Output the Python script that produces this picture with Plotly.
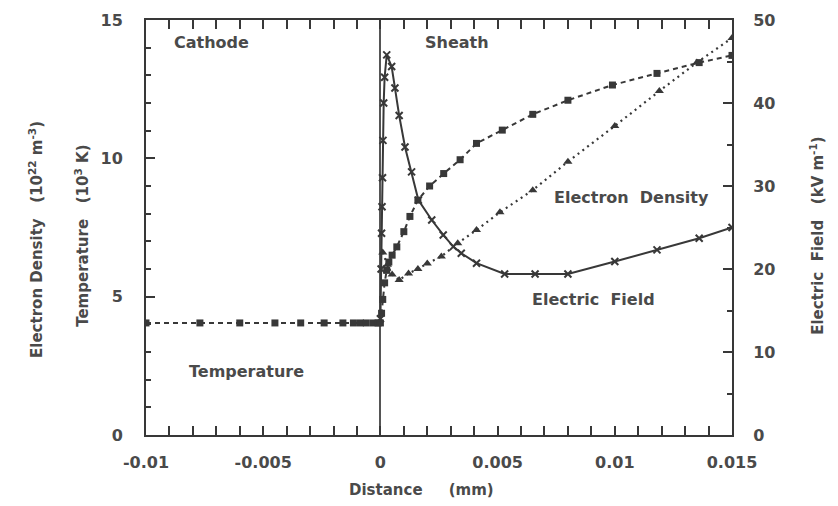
import plotly.graph_objects as go

# ---- data ----
temp_x = [-0.01, -0.0077, -0.006, -0.0045, -0.0034, -0.0024, -0.0016, -0.00115, -0.00085,
          -0.0006, -0.0003, -0.0001, 0.0, 0.00005, 0.0001, 0.00018, 0.00027, 0.00036,
          0.0005, 0.0007, 0.001, 0.00126, 0.0016, 0.0021, 0.0027, 0.0034, 0.0041, 0.0052,
          0.0065, 0.008, 0.0099, 0.0118, 0.0136, 0.015]
temp_y = [4.05, 4.05, 4.05, 4.05, 4.05, 4.05, 4.05, 4.05, 4.05,
          4.05, 4.05, 4.05, 4.05, 4.4, 4.9, 5.5, 5.95, 6.25,
          6.5, 6.8, 7.35, 7.9, 8.49, 9.0, 9.45, 9.95, 10.54, 11.02,
          11.59, 12.1, 12.65, 13.07, 13.46, 13.72]

dens_x = [0.0001, 0.0003, 0.0005, 0.0008, 0.0012, 0.0016, 0.002, 0.0026, 0.0033, 0.0041,
          0.0051, 0.0065, 0.008, 0.01, 0.0119, 0.0135, 0.015]
dens_y = [6.6, 6.15, 5.8, 5.6, 5.84, 6.0, 6.2, 6.45, 6.93, 7.41,
          8.05, 8.85, 9.88, 11.17, 12.43, 13.46, 14.35]

field_x = [0.0, 0.00003, 0.00005, 0.00007, 0.00009, 0.00011, 0.00014, 0.00018, 0.00027,
           0.00048, 0.00062, 0.0008, 0.00105, 0.00133, 0.00162, 0.00219, 0.00268, 0.00311,
           0.00345, 0.0041, 0.0053, 0.0066, 0.0080, 0.0100, 0.0118, 0.0136, 0.015]
field_y = [14.0, 20.0, 24.3, 27.5, 31.0, 35.5, 40.0, 43.1, 45.8,
           44.4, 41.8, 38.5, 34.7, 31.7, 28.3, 25.9, 24.1, 22.7,
           21.9, 20.7, 19.4, 19.4, 19.4, 20.9, 22.3, 23.7, 25.0]

x_tickvals = [-0.01, -0.005, 0, 0.005, 0.01, 0.015]
x_ticktext = ["-0.01", "-0.005", "0", "0.005", "0.01", "0.015"]
y_tickvals = [0, 5, 10, 15]
y2_tickvals = [0, 10, 20, 30, 40, 50]

INK = "#383838"
TXT = "#4a4a4a"
FONT = "DejaVu Sans"

fig = go.Figure()
fig.add_trace(go.Scatter(x=temp_x, y=temp_y, mode="lines+markers", name="Temperature",
                         line=dict(color=INK, width=2, dash="5px,4px"),
                         marker=dict(symbol="square", size=7, color=INK)))
fig.add_trace(go.Scatter(x=dens_x, y=dens_y, mode="lines+markers", name="Electron Density",
                         line=dict(color=INK, width=2.2, dash="2px,4px"),
                         marker=dict(symbol="triangle-up", size=8, color=INK)))
fig.add_trace(go.Scatter(x=field_x, y=field_y, mode="lines+markers", name="Electric Field",
                         yaxis="y2",
                         line=dict(color=INK, width=2),
                         marker=dict(symbol="x-thin", size=7, color=INK,
                                     line=dict(width=2, color=INK))))

tickfont = dict(family=FONT, size=16, color=TXT, weight="bold")

fig.update_layout(
    width=838, height=506,
    margin=dict(l=146, r=106, t=20, b=71),
    paper_bgcolor="white", plot_bgcolor="white",
    showlegend=False,
    xaxis=dict(range=[-0.01, 0.015], tickvals=x_tickvals, ticktext=x_ticktext,
               ticks="inside", ticklen=9, tickwidth=1.5, tickcolor=INK,
               minor=dict(dtick=0.001, tick0=0, ticks="inside", ticklen=5, tickcolor=INK),
               showline=True, linecolor=INK, linewidth=2, mirror="allticks",
               showgrid=False, zeroline=True, zerolinecolor="#555555", zerolinewidth=1.8,
               tickfont=tickfont, ticklabelstandoff=12),
    yaxis=dict(range=[0, 15], tickvals=y_tickvals,
               ticks="inside", ticklen=9, tickwidth=1.5, tickcolor=INK,
               minor=dict(dtick=1, ticks="inside", ticklen=5, tickcolor=INK),
               showline=True, linecolor=INK, linewidth=2,
               showgrid=False, zeroline=False,
               tickfont=tickfont, ticklabelstandoff=18),
    yaxis2=dict(range=[0, 50], tickvals=y2_tickvals, overlaying="y", side="right",
                ticks="inside", ticklen=9, tickwidth=1.5, tickcolor=INK,
                minor=dict(dtick=5, ticks="inside", ticklen=5, tickcolor=INK),
                showline=True, linecolor=INK, linewidth=2,
                showgrid=False, zeroline=False,
                tickfont=tickfont, ticklabelstandoff=16),
)

lab = dict(family=FONT, size=16, color=TXT, weight="bold")
small = dict(family=FONT, size=15, color=TXT, weight="bold")

annos = [
    dict(text="Cathode", x=-0.0089, y=14.2, xref="x", yref="y", xanchor="left", font=lab),
    dict(text="Sheath", x=0.0018, y=14.2, xref="x", yref="y", xanchor="left", font=lab),
    dict(text="Electron&nbsp;&nbsp;Density", x=0.0107, y=8.6, xref="x", yref="y", font=lab),
    dict(text="Electric&nbsp;&nbsp;Field", x=0.0091, y=4.9, xref="x", yref="y", font=lab),
    dict(text="Temperature", x=-0.0057, y=2.3, xref="x", yref="y", font=lab),
    dict(text="Electron Density&nbsp;&nbsp;&nbsp;(10<sup>22</sup> m<sup>-3</sup>)",
         x=0, y=0.47, xref="paper", yref="paper", xshift=-122, textangle=-90, font=small),
    dict(text="Temperature&nbsp;&nbsp;&nbsp;(10<sup>3</sup> K)",
         x=0, y=0.48, xref="paper", yref="paper", xshift=-76, textangle=-90, font=small),
    dict(text="Electric&nbsp;&nbsp;Field&nbsp;&nbsp;&nbsp;(kV m<sup>-1</sup>)",
         x=1, y=0.48, xref="paper", yref="paper", xshift=97, textangle=-90, font=small),
    dict(text="Distance&nbsp;&nbsp;&nbsp;&nbsp;&nbsp;(mm)",
         x=0.47, y=0, xref="paper", yref="paper", yshift=-66, font=small),
]
for a in annos:
    a.setdefault("showarrow", False)
    fig.add_annotation(**a)

fig.write_html("out.html")
